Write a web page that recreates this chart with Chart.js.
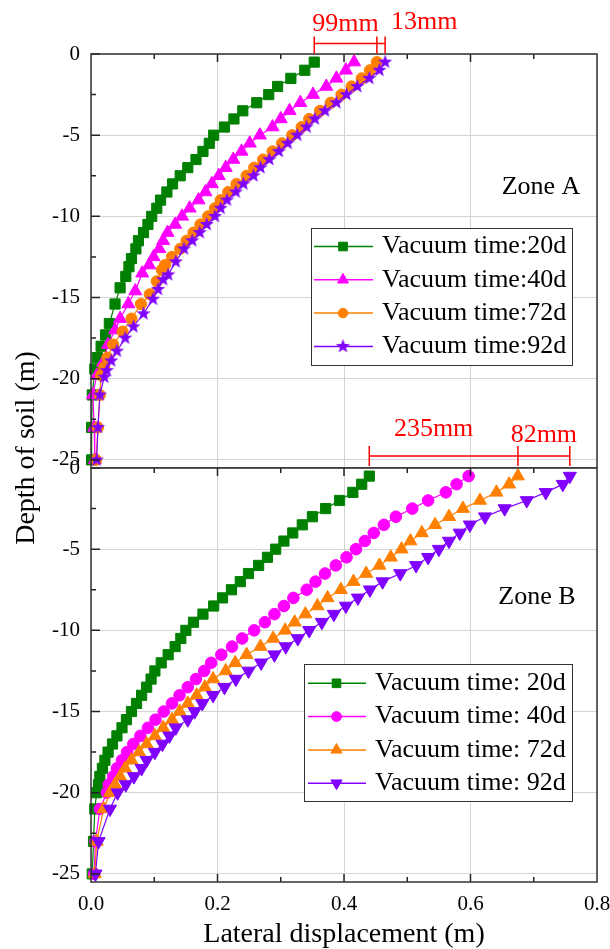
<!DOCTYPE html>
<html>
<head>
<meta charset="utf-8">
<script src="https://cdn.jsdelivr.net/npm/chart.js@4.4.1/dist/chart.umd.min.js"></script>
<style>
  body { margin: 0; background: #fff; }
  #wrap { position: relative; width: 610px; height: 949px; }
  #wrap canvas { position: absolute; left: 0; top: 0; }
</style>
</head>
<body>
<div id="wrap">
  <canvas id="zoneA" width="610" height="949"></canvas>
  <canvas id="zoneB" width="610" height="949"></canvas>
</div>
<script>
const xTicks = [0, 0.2, 0.4, 0.6, 0.8];
const yTicks = [0, -5, -10, -15, -20, -25];

const labelsA = ['Vacuum time:20d', 'Vacuum time:40d', 'Vacuum time:72d', 'Vacuum time:92d'];
const labelsB = ['Vacuum time: 20d', 'Vacuum time: 40d', 'Vacuum time: 72d', 'Vacuum time: 92d'];
const colors = ['#008000', '#ff00ff', '#ff8000', '#8000ff'];

// Zone A - reading depths are not quite the same from one survey to the next
const depthA20 = [-0.5, -1, -1.5, -2, -2.5, -3, -3.5, -4, -4.5, -5, -5.5, -6, -6.5, -7, -7.5, -8, -8.5, -9, -9.5, -10, -10.5, -11, -11.5, -12,
  -12.6, -13.1, -13.7, -14.4, -15.4, -16.6, -17.3, -18, -18.7, -19.4, -21, -23, -25];
const dispA20 = [0.353, 0.338, 0.316, 0.295, 0.281, 0.262, 0.240, 0.226, 0.211, 0.194, 0.187, 0.177, 0.166, 0.153, 0.141, 0.129, 0.120, 0.110, 0.104, 0.096, 0.090, 0.083, 0.075, 0.071,
  0.064, 0.060, 0.055, 0.046, 0.038, 0.029, 0.023, 0.016, 0.010, 0.006, 0.002, 0.001, 0.001];

const depthA40 = [-0.5, -1, -1.5, -2, -2.5, -3, -3.5, -4, -4.5, -5, -5.5, -6, -6.5, -7, -7.5, -8, -8.5, -9, -9.5, -10, -10.5, -11, -11.5, -12,
  -12.5, -13, -13.5, -14.6, -15.4, -16.3, -17, -17.9, -19, -19.8, -21, -23, -25];
const dispA40 = [0.416, 0.403, 0.388, 0.372, 0.351, 0.331, 0.314, 0.300, 0.287, 0.267, 0.251, 0.238, 0.225, 0.213, 0.202, 0.191, 0.181, 0.170, 0.156, 0.144, 0.133, 0.121, 0.114, 0.108,
  0.099, 0.092, 0.081, 0.070, 0.059, 0.046, 0.038, 0.027, 0.019, 0.009, 0.003, 0.005, 0.006];

const depthA72 = [-0.5, -1, -1.5, -2, -2.5, -3, -3.5, -4, -4.5, -5, -5.5, -6, -6.5, -7, -7.5, -8, -8.5, -9, -9.5, -10, -10.5, -11, -11.5, -12,
  -12.5, -13, -13.3, -14, -14.8, -15.4, -16.3, -17.1, -17.9, -18.7, -19.3, -19.8, -21, -23, -25];
const dispA72 = [0.452, 0.441, 0.428, 0.412, 0.396, 0.379, 0.362, 0.345, 0.333, 0.318, 0.302, 0.287, 0.272, 0.258, 0.246, 0.230, 0.217, 0.205, 0.196, 0.185, 0.173, 0.162, 0.151, 0.141,
  0.128, 0.117, 0.112, 0.104, 0.093, 0.079, 0.064, 0.050, 0.035, 0.026, 0.021, 0.016, 0.014, 0.011, 0.008];

const depthA92 = [-0.5, -1, -1.5, -2, -2.5, -3, -3.5, -4, -4.5, -5, -5.5, -6, -6.5, -7, -7.5, -8, -8.5, -9, -9.5, -10, -10.5, -11, -11.5, -12,
  -12.8, -13.6, -13.9, -14.5, -15.1, -16, -16.8, -17.5, -18.3, -18.9, -19.5, -19.9, -21, -23, -25];
const dispA92 = [0.465, 0.456, 0.440, 0.421, 0.404, 0.388, 0.370, 0.354, 0.341, 0.326, 0.311, 0.297, 0.282, 0.268, 0.257, 0.241, 0.229, 0.215, 0.205, 0.196, 0.183, 0.172, 0.160, 0.147,
  0.134, 0.122, 0.114, 0.106, 0.098, 0.083, 0.067, 0.054, 0.041, 0.032, 0.025, 0.021, 0.014, 0.011, 0.009];

// Zone B - every 0.5 m down to 20 m, then 21, 23, 25 m
const depthB = [-0.5, -1, -1.5, -2, -2.5, -3, -3.5, -4, -4.5, -5, -5.5, -6, -6.5, -7, -7.5, -8, -8.5, -9, -9.5, -10,
  -10.5, -11, -11.5, -12, -12.5, -13, -13.5, -14, -14.5, -15, -15.5, -16, -16.5, -17, -17.5, -18, -18.5, -19, -19.5, -20, -21, -23, -25];
const dispB20 = [0.440, 0.428, 0.414, 0.393, 0.371, 0.350, 0.334, 0.319, 0.305, 0.292, 0.279, 0.265, 0.249, 0.236, 0.222, 0.208, 0.194, 0.177, 0.162, 0.150,
  0.142, 0.133, 0.122, 0.111, 0.101, 0.095, 0.088, 0.080, 0.072, 0.064, 0.056, 0.049, 0.041, 0.034, 0.027, 0.022, 0.018, 0.014, 0.012, 0.009, 0.006, 0.004, 0.002];
const dispB40 = [0.597, 0.578, 0.561, 0.533, 0.508, 0.482, 0.463, 0.447, 0.433, 0.419, 0.404, 0.387, 0.370, 0.355, 0.341, 0.320, 0.305, 0.290, 0.275, 0.258,
  0.239, 0.223, 0.206, 0.190, 0.179, 0.166, 0.153, 0.140, 0.128, 0.115, 0.102, 0.090, 0.078, 0.067, 0.057, 0.049, 0.041, 0.035, 0.028, 0.025, 0.014, 0.007, 0.005];
const dispB72 = [0.675, 0.661, 0.641, 0.615, 0.588, 0.566, 0.544, 0.523, 0.505, 0.491, 0.474, 0.456, 0.435, 0.415, 0.395, 0.374, 0.358, 0.339, 0.322, 0.307,
  0.288, 0.268, 0.246, 0.228, 0.213, 0.193, 0.180, 0.167, 0.153, 0.140, 0.128, 0.114, 0.101, 0.088, 0.076, 0.064, 0.054, 0.046, 0.038, 0.030, 0.020, 0.009, 0.006];
const dispB92 = [0.757, 0.746, 0.719, 0.689, 0.654, 0.623, 0.599, 0.583, 0.566, 0.550, 0.533, 0.514, 0.489, 0.461, 0.441, 0.422, 0.403, 0.384, 0.365, 0.345,
  0.327, 0.308, 0.290, 0.269, 0.249, 0.229, 0.211, 0.193, 0.176, 0.164, 0.153, 0.134, 0.124, 0.113, 0.101, 0.088, 0.080, 0.068, 0.055, 0.042, 0.030, 0.012, 0.007];

// gaps between the surface readings, shown as red brackets
const gapTextA = ['99mm', '13mm'];
const gapTextB = ['235mm', '82mm'];

const SERIF = '"Liberation Serif", "Times New Roman", serif';
Chart.defaults.font.family = SERIF;
Chart.defaults.color = '#000';

// filled five-point star used as a marker
function starImage(color, outer, inner) {
  const size = Math.ceil(outer * 2 + 2);
  const c = document.createElement('canvas');
  c.width = c.height = size;
  const g = c.getContext('2d');
  g.beginPath();
  for (let k = 0; k < 10; k++) {
    const r = k % 2 ? inner : outer;
    const a = -Math.PI / 2 + k * Math.PI / 5;
    g.lineTo(size / 2 + r * Math.cos(a), size / 2 + r * Math.sin(a));
  }
  g.closePath();
  g.fillStyle = color;
  g.fill();
  return c;
}

function series(label, depth, disp, color, style, radius, order, extra) {
  return Object.assign({
    label: label,
    data: depth.map((d, i) => ({ x: disp[i], y: d })),
    showLine: true,
    borderColor: color,
    borderWidth: 1.2,
    backgroundColor: color,
    pointBackgroundColor: color,
    pointBorderColor: color,
    pointBorderWidth: 1,
    pointStyle: style,
    pointRadius: radius,
    order: order,
    clip: false
  }, extra || {});
}

function yScale() {
  return {
    min: -25.5, max: 0,
    afterBuildTicks: s => { s.ticks = yTicks.map(v => ({ value: v })); },
    afterFit: s => { s.width = 91; s.paddingTop = 0; s.paddingBottom = 0; },
    ticks: { font: { size: 21 }, color: '#000', padding: 11 },
    grid: { color: '#d4d4d4', lineWidth: 1, drawTicks: false },
    border: { display: false }
  };
}

function xScale(showLabels) {
  return {
    type: 'linear', min: 0, max: 0.8,
    afterBuildTicks: s => { s.ticks = xTicks.map(v => ({ value: v })); },
    afterFit: s => { s.height = showLabels ? 67 : 0; s.paddingLeft = 0; s.paddingRight = 0; },
    ticks: { display: showLabels, font: { size: 21 }, color: '#000', padding: 10, maxRotation: 0, autoSkip: false,
      callback: v => Number(v).toFixed(1) },
    grid: { color: '#d4d4d4', lineWidth: 1, drawTicks: false },
    border: { display: false },
    title: { display: showLabels, text: 'Lateral displacement (m)', font: { size: 28, lineHeight: 1 }, color: '#000', padding: 0 }
  };
}

function drawLegend(ctx, chart, box) {
  ctx.fillStyle = '#fff';
  ctx.fillRect(box.x, box.y, box.w, box.h);
  ctx.strokeStyle = '#333';
  ctx.lineWidth = 1;
  ctx.strokeRect(box.x + 0.5, box.y + 0.5, box.w, box.h);
  ctx.font = '26px ' + SERIF;
  ctx.textBaseline = 'middle';
  ctx.textAlign = 'left';
  chart.data.datasets.forEach((ds, i) => {
    const y = box.y + box.row0 + i * box.step;
    ctx.strokeStyle = ds.borderColor;
    ctx.lineWidth = 1.5;
    ctx.beginPath();
    ctx.moveTo(box.x + box.line0, y);
    ctx.lineTo(box.x + box.line1, y);
    ctx.stroke();
    ctx.fillStyle = ds.pointBackgroundColor;
    ctx.strokeStyle = ds.pointBorderColor;
    ctx.lineWidth = 1;
    Chart.helpers.drawPoint(ctx, {
      pointStyle: ds.pointStyle, radius: ds.pointRadius * 0.85,
      rotation: ds.pointRotation || 0, borderWidth: 1
    }, box.x + box.mark, y);
    ctx.fillStyle = '#000';
    ctx.fillText(ds.label, box.x + box.text, y);
  });
}

function drawBracket(ctx, xs, br) {
  const px = br.values.map(v => xs.getPixelForValue(v));
  ctx.strokeStyle = '#ff0000';
  ctx.lineWidth = 1.5;
  ctx.beginPath();
  ctx.moveTo(px[0], br.y);
  ctx.lineTo(px[2], br.y);
  px.forEach(p => { ctx.moveTo(p, br.y - br.up); ctx.lineTo(p, br.y + br.down); });
  ctx.stroke();
  ctx.fillStyle = '#ff0000';
  ctx.font = '26px ' + SERIF;
  ctx.textBaseline = 'middle';
  br.texts.forEach(t => {
    ctx.textAlign = t.align;
    const base = t.at === 'right' ? px[2] : (px[t.seg] + px[t.seg + 1]) / 2;
    ctx.fillText(t.text, base + t.dx, t.y);
  });
}

// frame, inward ticks, zone name, legend and annotations for one panel
function panelDecor(opts) {
  return {
    id: 'panelDecor',
    afterDraw(chart) {
      const ctx = chart.ctx;
      const a = chart.chartArea;
      const xs = chart.scales.x, ys = chart.scales.y;
      ctx.save();
      ctx.strokeStyle = '#222';
      ctx.lineWidth = 1.5;
      ctx.beginPath();
      for (let v = 0; v >= -25; v -= 2.5) {
        const len = v % 5 === 0 ? 9 : 5;
        const py = ys.getPixelForValue(v);
        ctx.moveTo(a.left, py); ctx.lineTo(a.left + len, py);
      }
      for (let k = 1; k < 8; k++) {
        const len = k % 2 === 0 ? 8 : 5;
        const p = xs.getPixelForValue(k / 10);
        ctx.moveTo(p, a.top); ctx.lineTo(p, a.top + len);
        if (opts.bottomTicks) { ctx.moveTo(p, a.bottom); ctx.lineTo(p, a.bottom - len); }
      }
      ctx.stroke();
      ctx.strokeStyle = '#333';
      ctx.strokeRect(a.left, a.top, a.right - a.left, a.bottom - a.top);

      ctx.fillStyle = '#000';
      ctx.font = '26px ' + SERIF;
      ctx.textAlign = 'center';
      ctx.textBaseline = 'middle';
      ctx.fillText(opts.zone, opts.zoneX, opts.zoneY);

      drawLegend(ctx, chart, opts.legend);
      drawBracket(ctx, xs, opts.bracket);

      if (opts.yTitle) {
        ctx.save();
        ctx.translate(opts.yTitle.x, opts.yTitle.y);
        ctx.rotate(-Math.PI / 2);
        ctx.fillStyle = '#000';
        ctx.font = '28px ' + SERIF;
        ctx.textAlign = 'center';
        ctx.textBaseline = 'middle';
        ctx.fillText(opts.yTitle.text, 0, 0);
        ctx.restore();
      }
      ctx.restore();
    }
  };
}

const baseOptions = {
  responsive: false,
  animation: false,
  devicePixelRatio: 1,
  events: [],
  plugins: { legend: { display: false }, tooltip: { enabled: false } }
};

const star = starImage(colors[3], 7.5, 3.1);

new Chart(document.getElementById('zoneA'), {
  type: 'scatter',
  data: {
    datasets: [
      series(labelsA[0], depthA20, dispA20, colors[0], 'rect', 7.2, 4),
      series(labelsA[1], depthA40, dispA40, colors[1], 'triangle', 7.5, 3),
      series(labelsA[2], depthA72, dispA72, colors[2], 'circle', 5.6, 2),
      series(labelsA[3], depthA92, dispA92, colors[3], star, 7, 1)
    ]
  },
  options: Object.assign({}, baseOptions, {
    layout: { padding: { top: 54, bottom: 481, left: 0, right: 13 } },
    scales: { x: xScale(false), y: yScale() }
  }),
  plugins: [panelDecor({
    zone: 'Zone A', zoneX: 541, zoneY: 187,
    legend: { x: 311, y: 228, w: 261, h: 137, row0: 18.5, step: 33.3, line0: 3, line1: 62, mark: 32, text: 71 },
    bracket: {
      values: [dispA20[0], dispA72[0], dispA92[0]], y: 43.5, up: 7, down: 10,
      texts: [
        { text: gapTextA[0], seg: 0, dx: 0, align: 'center', y: 24.5 },
        { text: gapTextA[1], at: 'right', dx: 6, align: 'left', y: 22.5 }
      ]
    }
  })]
});

new Chart(document.getElementById('zoneB'), {
  type: 'scatter',
  data: {
    datasets: [
      series(labelsB[0], depthB, dispB20, colors[0], 'rect', 7.2, 4),
      series(labelsB[1], depthB, dispB40, colors[1], 'circle', 5.8, 3),
      series(labelsB[2], depthB, dispB72, colors[2], 'triangle', 7.5, 2),
      series(labelsB[3], depthB, dispB92, colors[3], 'triangle', 7.6, 1, { pointRotation: 180 })
    ]
  },
  options: Object.assign({}, baseOptions, {
    layout: { padding: { top: 468, bottom: 0, left: 0, right: 13 } },
    scales: { x: xScale(true), y: yScale() }
  }),
  plugins: [panelDecor({
    zone: 'Zone B', zoneX: 537, zoneY: 597, bottomTicks: true,
    legend: { x: 304, y: 664, w: 268, h: 137, row0: 19.3, step: 33.3, line0: 4, line1: 62, mark: 32.5, text: 71 },
    bracket: {
      values: [dispB20[0], dispB72[0], dispB92[0]], y: 456, up: 10, down: 10,
      texts: [
        { text: gapTextB[0], seg: 0, dx: -10, align: 'center', y: 429 },
        { text: gapTextB[1], seg: 1, dx: 0, align: 'center', y: 435 }
      ]
    },
    yTitle: { text: 'Depth of soil (m)', x: 27, y: 448 }
  })]
});
</script>
</body>
</html>
